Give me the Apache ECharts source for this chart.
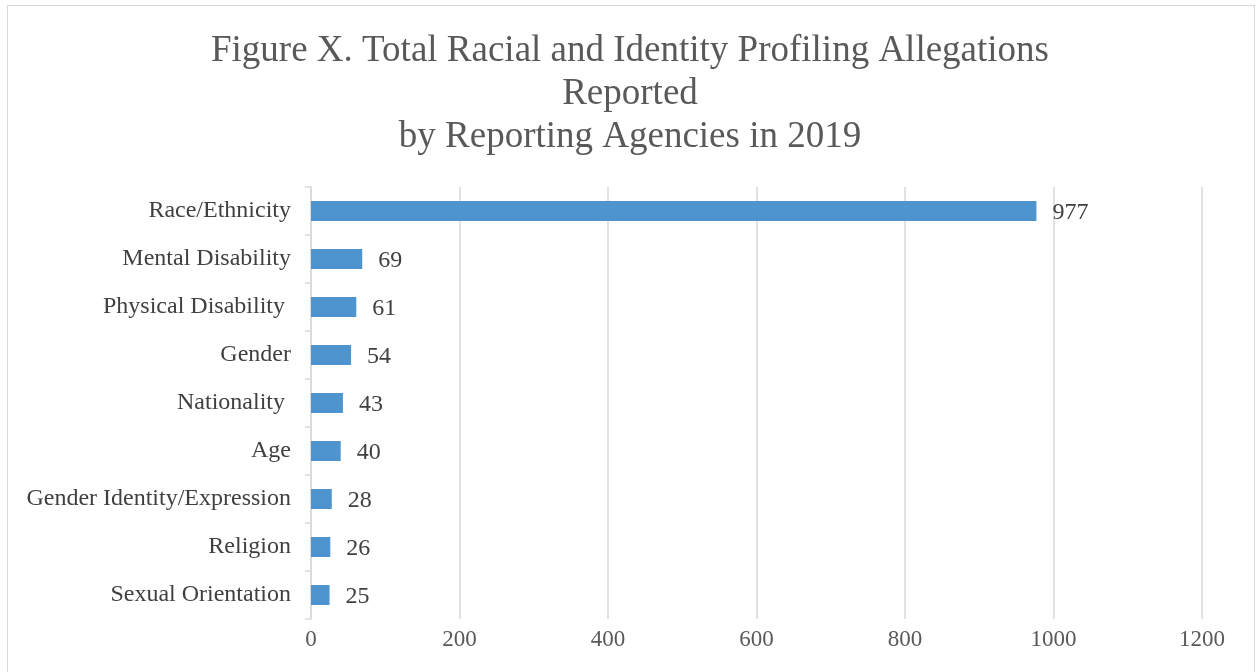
<!DOCTYPE html>
<html><head><meta charset="utf-8">
<script src="https://cdn.jsdelivr.net/npm/echarts@6/dist/echarts.min.js"></script>
<style>
html,body{margin:0;padding:0;background:#fff;}
#c{width:1260px;height:672px;position:relative;}
#frame{position:absolute;left:7px;top:5px;width:1248px;height:700px;border:1.5px solid #d9d9d9;box-sizing:border-box;pointer-events:none;}
</style>
</head><body>
<div id="c"></div><div id="frame"></div>
<script>
const categories = ["Race/Ethnicity","Mental Disability","Physical Disability ","Gender","Nationality ","Age","Gender Identity/Expression","Religion","Sexual Orientation"];
const values = [977,69,61,54,43,40,28,26,25];
const titleText = "Figure X. Total Racial and Identity Profiling Allegations\nReported\nby Reporting Agencies in 2019";
const font = "'Liberation Serif','Times New Roman',serif";
const chart = echarts.init(document.getElementById('c'));
chart.setOption({
  animation:false,
  title:{text:titleText,left:'center',top:25,textStyle:{fontFamily:font,fontSize:37,fontWeight:'normal',color:'#595959',lineHeight:43}},
  grid:{left:311,right:58,top:187,bottom:53},
  xAxis:{type:'value',min:0,max:1200,interval:200,
    axisLine:{show:false},axisTick:{show:false},
    splitLine:{lineStyle:{color:'#d9d9d9',width:1.5}},
    axisLabel:{fontFamily:font,fontSize:23,color:'#595959',margin:9,formatter:v=>String(v)}},
  yAxis:{type:'category',data:categories,inverse:true,
    axisLine:{lineStyle:{color:'#d9d9d9',width:1.5}},
    axisTick:{show:true,length:6,lineStyle:{color:'#d9d9d9',width:1.5}},
    axisLabel:{fontFamily:font,fontSize:24,color:'#404040',margin:20,padding:[3,0,0,0]}},
  series:[{type:'bar',data:values,barWidth:20,itemStyle:{color:'#4e95d0'},
    label:{show:true,position:'right',distance:16,offset:[0,2],fontFamily:font,fontSize:24,color:'#404040'}}]
});
</script>
</body></html>
